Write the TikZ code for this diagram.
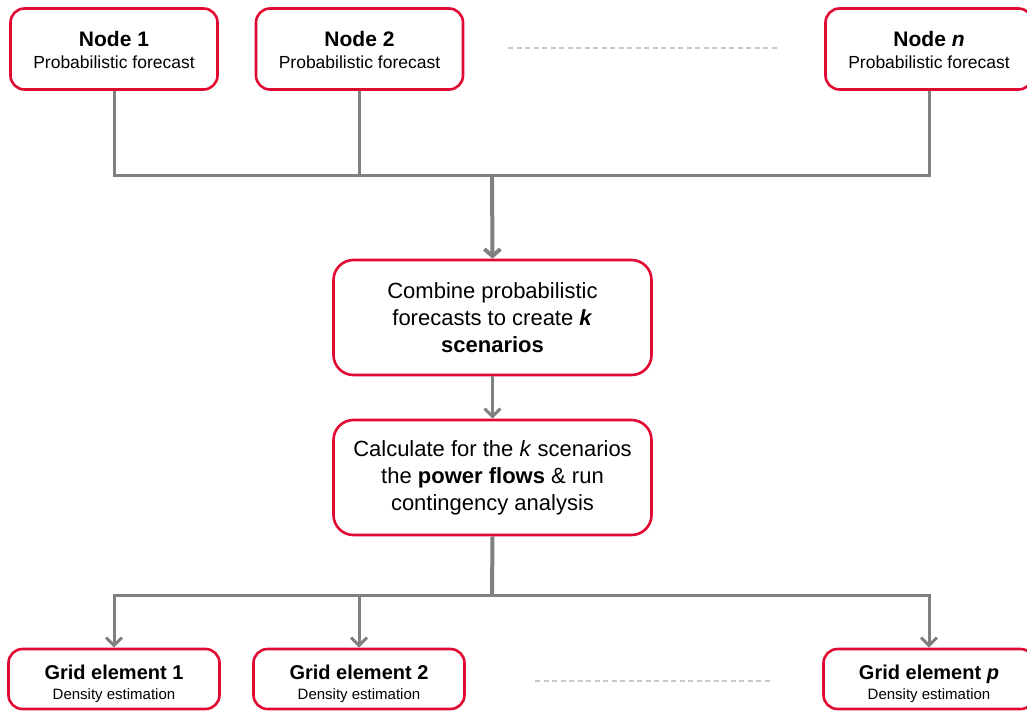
\documentclass[tikz,border=0pt]{standalone}
\usepackage{fontspec}
\setmainfont{Liberation Sans}
\usetikzlibrary{arrows.meta,positioning}
\definecolor{FlowRed}{RGB}{225,10,50}
\definecolor{FlowGray}{RGB}{128,128,128}
\definecolor{DotGray}{RGB}{200,200,200}

\begin{document}
\begin{tikzpicture}[x=1pt,y=-1pt,
box/.style={rectangle,rounded corners=14pt,draw=FlowRed,line width=2.6pt,fill=white,align=center,inner sep=0pt},
topbox/.style={box,minimum width=207pt,minimum height=81pt,font=\fontsize{17.5}{22}\selectfont},
midbox/.style={box,rounded corners=20pt,minimum width=318pt,minimum height=115pt,font=\fontsize{22}{27}\selectfont},
gridbox/.style={box,minimum width=211pt,minimum height=60pt,font=\fontsize{15}{19.5}\selectfont},
conn/.style={draw=FlowGray,line width=3pt},
trunk/.style={draw=FlowGray,line width=4pt},
arrow/.style={conn,-{Straight Barb[length=8pt,width=16pt]}},
dots/.style={draw=DotGray,line width=1.6pt,dash pattern=on 5pt off 3.5pt}]
\useasboundingbox (0,0) rectangle (1027,711);
% forecasts per node
\node[topbox] (n1) at (114,49) {\rule{0pt}{18pt}{\fontsize{21}{22}\selectfont\bfseries Node 1}\\Probabilistic forecast};
\node[topbox] (n2) at (359.5,49) {\rule{0pt}{18pt}{\fontsize{21}{22}\selectfont\bfseries Node 2}\\Probabilistic forecast};
\node[topbox] (nn) at (929,49) {\rule{0pt}{18pt}{\fontsize{21}{22}\selectfont\bfseries Node \textit{n}}\\Probabilistic forecast};
\coordinate (td1) at (508,48);
\coordinate (td2) at (780,48);
\draw[dots] (td1) -- (td2);
% scenario generation and power flow
\node[midbox] (comb) at (492.5,317.5) {Combine probabilistic\\forecasts to create \textbf{\textit{k}}\\\textbf{scenarios}};
\node[midbox] (calc) at (492.5,477.5) {Calculate for the \textit{k} scenarios\\the \textbf{power flows} \& run\\contingency analysis};
% grid elements
\node[gridbox] (g1) at (114,679) {\rule{0pt}{24pt}{\fontsize{20}{19.5}\selectfont\bfseries Grid element 1}\\Density estimation};
\node[gridbox] (g2) at (359,679) {\rule{0pt}{24pt}{\fontsize{20}{19.5}\selectfont\bfseries Grid element 2}\\Density estimation};
\node[gridbox] (gp) at (929,679) {\rule{0pt}{24pt}{\fontsize{20}{19.5}\selectfont\bfseries Grid element \textit{p}}\\Density estimation};
\coordinate (bd1) at (535,681);
\coordinate (bd2) at (770,681);
\draw[dots] (bd1) -- (bd2);
% connectors
\coordinate (hub) at (492,176);
\coordinate (split) at (492,595);
\draw[conn] (n1.south) |- (hub) -| (nn.south);
\draw[conn] (n2.south) -- (n2.south |- hub);
\draw[trunk,-{Straight Barb[length=7pt,width=16pt]}] (hub) -- (comb.north);
\draw[arrow] (comb.south) -- (calc.north);
\draw[trunk] (calc.south) -- (split);
\foreach \g in {g1,g2,gp}{\draw[arrow] (split) -| (\g.north);}
\end{tikzpicture}
\end{document}
